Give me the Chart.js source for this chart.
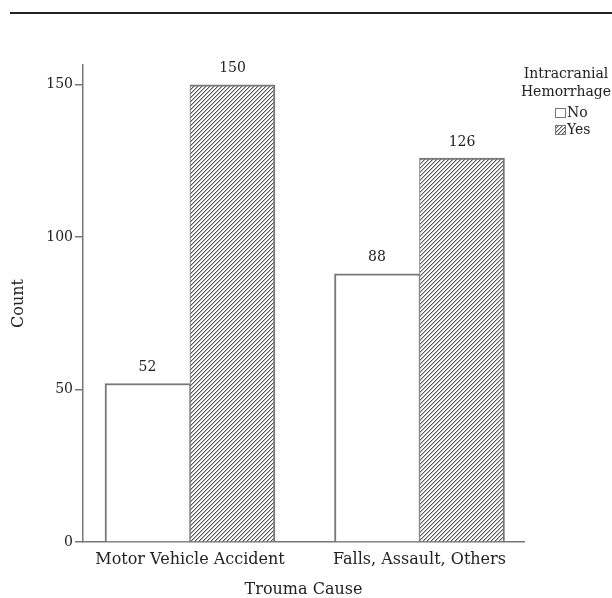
<!DOCTYPE html>
<html>
<head>
<meta charset="utf-8">
<script src="https://cdn.jsdelivr.net/npm/chart.js@4/dist/chart.umd.min.js"></script>
<style>
    html, body { margin: 0; padding: 0; background: #fff; }
    #wrap { position: relative; width: 612px; height: 598px; }
</style>
</head>
<body>
<div id="wrap"><canvas id="chart" width="612" height="598"></canvas></div>
<script>
const categories = ['Motor Vehicle Accident', 'Falls, Assault, Others'];
const noCounts = [52, 88];
const yesCounts = [150, 126];
const seriesNames = ['No', 'Yes'];
const yTicks = [0, 50, 100, 150];
const legendTitle = ['Intracranial', 'Hemorrhage'];

const axisColor = '#777';
const textColor = '#222';

Chart.defaults.font.family = "'DejaVu Serif', serif";
Chart.defaults.font.size = 14;
Chart.defaults.color = textColor;

// "/" hatch for the Yes bars, drawn pixel by pixel so it stays crisp
function makeHatch() {
    const size = 4;
    const c = document.createElement('canvas');
    c.width = size;
    c.height = size;
    const g = c.getContext('2d');
    g.fillStyle = '#fff';
    g.fillRect(0, 0, size, size);
    for (let x = 0; x < size; x++) {
        g.fillStyle = '#555';
        g.fillRect(x, size - 1 - x, 1, 1);
        g.fillStyle = '#bbb';
        g.fillRect(x, (size - x) % size, 1, 1);
    }
    return g.createPattern(c, 'repeat');
}

const hatch = makeHatch();

const valueLabels = {
    id: 'valueLabels',
    afterDatasetsDraw(chart) {
        const ctx = chart.ctx;
        ctx.save();
        ctx.font = "14px 'DejaVu Serif', serif";
        ctx.fillStyle = textColor;
        ctx.textAlign = 'center';
        ctx.textBaseline = 'middle';
        chart.data.datasets.forEach((ds, di) => {
            chart.getDatasetMeta(di).data.forEach((bar, i) => {
                ctx.fillText(String(ds.data[i].y), bar.x, bar.y - 16);
            });
        });
        ctx.restore();
    }
};

// two-line legend title with small boxes, top right
const sideLegend = {
    id: 'sideLegend',
    afterDraw(chart) {
        const ctx = chart.ctx;
        ctx.save();
        ctx.font = "14px 'DejaVu Serif', serif";
        ctx.fillStyle = textColor;
        ctx.textAlign = 'center';
        ctx.textBaseline = 'middle';
        legendTitle.forEach((t, i) => ctx.fillText(t, 566, 74 + i * 18));

        chart.data.datasets.forEach((ds, i) => {
            const y = 113 + i * 17;
            ctx.fillStyle = ds.backgroundColor;
            ctx.fillRect(555, y - 5, 10, 10);
            ctx.strokeStyle = axisColor;
            ctx.lineWidth = 1;
            ctx.strokeRect(555.5, y - 4.5, 10, 9);
            ctx.fillStyle = textColor;
            ctx.textAlign = 'left';
            ctx.fillText(ds.label, 567, y);
        });

        // rule across the top of the page
        ctx.strokeStyle = '#222';
        ctx.lineWidth = 2;
        ctx.beginPath();
        ctx.moveTo(10, 13);
        ctx.lineTo(612, 13);
        ctx.stroke();
        ctx.restore();
    }
};

const chart = new Chart(document.getElementById('chart'), {
    type: 'bar',
    data: {
        datasets: [
            {
                label: seriesNames[0],
                data: noCounts.map((v, i) => ({ x: i, y: v })),
                backgroundColor: '#fff',
                borderColor: axisColor,
                borderWidth: { top: 2, left: 2, right: 1, bottom: 0 }
            },
            {
                label: seriesNames[1],
                data: yesCounts.map((v, i) => ({ x: i, y: v })),
                backgroundColor: hatch,
                borderColor: axisColor,
                borderWidth: { top: 2, left: 1, right: 2, bottom: 0 }
            }
        ]
    },
    options: {
        responsive: false,
        animation: false,
        devicePixelRatio: 1,
        barThickness: 85,
        layout: { padding: { top: 65, right: 88, left: 0, bottom: 0 } },
        plugins: {
            legend: { display: false },
            tooltip: { enabled: false }
        },
        scales: {
            x: {
                type: 'linear',
                offset: false,
                min: -0.4662,
                max: 1.4553,
                afterBuildTicks: (scale) => { scale.ticks = categories.map((c, i) => ({ value: i })); },
                afterFit: (scale) => { scale.height = 56; },
                grid: { display: false, drawTicks: false },
                border: { display: true, color: axisColor, width: 1.5 },
                ticks: {
                    padding: 8,
                    maxRotation: 0,
                    font: { size: 16 },
                    callback: (v) => categories[v]
                },
                title: {
                    display: true,
                    text: 'Trouma Cause',
                    font: { size: 16, lineHeight: 1 },
                    padding: 0
                }
            },
            y: {
                min: 0,
                max: 156.5,
                afterBuildTicks: (scale) => { scale.ticks = yTicks.map(v => ({ value: v })); },
                afterFit: (scale) => { scale.width = 83; },
                grid: { drawOnChartArea: false, tickLength: 8, color: axisColor, lineWidth: 1.5 },
                border: { display: true, color: axisColor, width: 1.5 },
                ticks: { padding: 2 },
                title: {
                    display: true,
                    text: 'Count',
                    font: { size: 16 },
                    padding: { top: 9, bottom: 0 }
                }
            }
        }
    },
    plugins: [valueLabels, sideLegend]
});
</script>
</body>
</html>
